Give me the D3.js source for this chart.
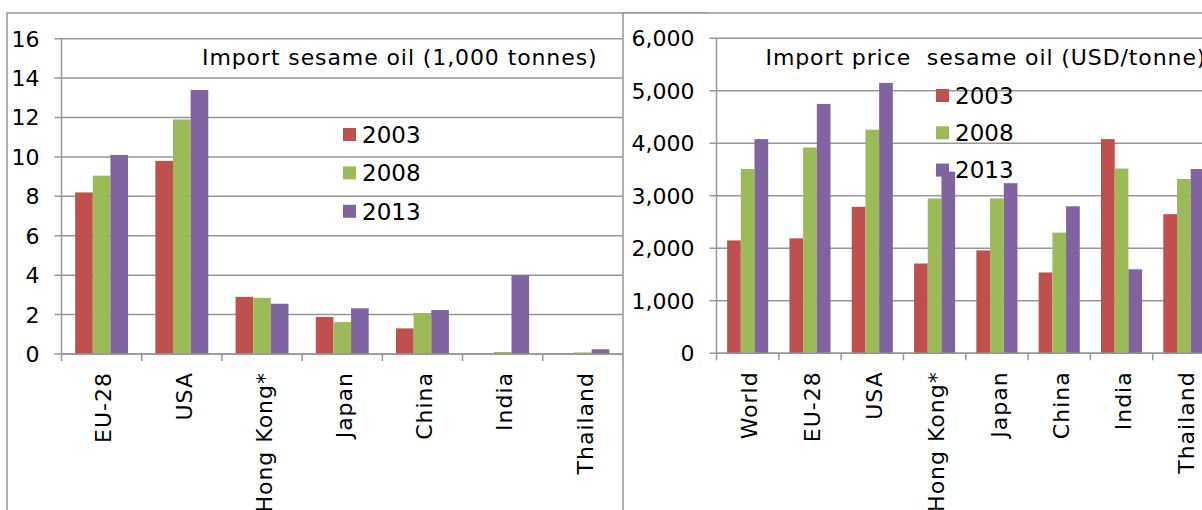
<!DOCTYPE html>
<html>
<head>
<meta charset="utf-8">
<script src="https://cdn.jsdelivr.net/npm/d3@7"></script>
<style>
  html, body { margin: 0; padding: 0; background: #fff; overflow: hidden; }
  svg { display: block; font-family: "DejaVu Sans", Verdana, sans-serif; }
  text { white-space: pre; fill: #000; }
</style>
</head>
<body>
<svg id="chart" width="1202" height="510"></svg>
<script>
// Sesame oil imports: volume (1,000 tonnes) and import price (USD/tonne)
const years = ["2003", "2008", "2013"];
const seriesColors = ["#C0504D", "#9BBB59", "#8064A2"];

const volCategories = ["EU-28", "USA", "Hong Kong*", "Japan", "China", "India", "Thailand"];
const vol2003 = [8.2, 9.8, 2.9, 1.88, 1.3, 0.02, 0.02];
const vol2008 = [9.05, 11.9, 2.85, 1.62, 2.08, 0.1, 0.08];
const vol2013 = [10.1, 13.4, 2.55, 2.32, 2.23, 4.0, 0.24];
const volTicks = [0, 2, 4, 6, 8, 10, 12, 14, 16];

const priceCategories = ["World", "EU-28", "USA", "Hong Kong*", "Japan", "China", "India", "Thailand"];
const price2003 = [2150, 2190, 2790, 1710, 1960, 1540, 4080, 2650];
const price2008 = [3510, 3920, 4260, 2950, 2950, 2300, 3520, 3320];
const price2013 = [4080, 4750, 5150, 3460, 3240, 2800, 1600, 3510];
const priceTicks = [0, 1000, 2000, 3000, 4000, 5000, 6000];

const svg = d3.select("#chart");
const GRID = "#979797";
const FONT = 22;

function drawPanel(cfg) {
  const g = svg.append("g");

  // panel frame
  g.append("rect")
    .attr("x", cfg.frame[0]).attr("y", cfg.frame[1])
    .attr("width", cfg.frame[2]).attr("height", cfg.frame[3])
    .attr("fill", "#fff").attr("stroke", GRID).attr("stroke-width", 1.5);

  const x = d3.scaleBand().domain(cfg.categories).range([cfg.left, cfg.right]).padding(0);
  const y = d3.scaleLinear().domain([0, cfg.max]).range([cfg.bottom, cfg.top]);

  // inner scale for the three years: bars touch, gap between groups ~1.55 bar widths
  const groupW = x.bandwidth() * 3 / (3 + 1.55);
  const inner = d3.scaleBand().domain(years).range([0, groupW]).padding(0);

  // horizontal gridlines with tick stubs to the left of the axis
  g.append("g").selectAll("line").data(cfg.ticks).join("line")
    .attr("x1", cfg.left - 7).attr("x2", cfg.right)
    .attr("y1", d => y(d)).attr("y2", d => y(d))
    .attr("stroke", GRID).attr("stroke-width", 1.5);

  // y tick labels
  g.append("g").selectAll("text").data(cfg.ticks).join("text")
    .attr("x", cfg.left - 22).attr("y", d => y(d))
    .attr("dy", "0.36em").attr("text-anchor", "end")
    .attr("font-size", FONT)
    .text(d => cfg.fmt(d));

  // bars
  cfg.series.forEach((vals, si) => {
    g.append("g").selectAll("rect").data(vals).join("rect")
      .attr("x", (d, i) => x(cfg.categories[i]) + (x.bandwidth() - groupW) / 2 + inner(years[si]))
      .attr("width", inner.bandwidth())
      .attr("y", d => y(d))
      .attr("height", d => y(0) - y(d))
      .attr("fill", seriesColors[si]);
  });

  // y axis line
  g.append("line")
    .attr("x1", cfg.left).attr("x2", cfg.left)
    .attr("y1", cfg.top).attr("y2", cfg.bottom)
    .attr("stroke", GRID).attr("stroke-width", 1.5);

  // x axis line and category boundary ticks
  g.append("line")
    .attr("x1", cfg.left).attr("x2", cfg.right)
    .attr("y1", cfg.bottom).attr("y2", cfg.bottom)
    .attr("stroke", GRID).attr("stroke-width", 1.5);
  const bounds = cfg.categories.map(c => x(c)).concat([cfg.right]);
  g.append("g").selectAll("line").data(bounds).join("line")
    .attr("x1", d => d).attr("x2", d => d)
    .attr("y1", cfg.bottom).attr("y2", cfg.bottom + 7)
    .attr("stroke", GRID).attr("stroke-width", 1.5);

  // rotated category labels
  g.append("g").selectAll("text").data(cfg.categories).join("text")
    .attr("transform", d => `translate(${x(d) + x.bandwidth() / 2 + 1},${cfg.bottom + 18}) rotate(-90)`)
    .attr("text-anchor", "end").attr("dy", "0.4em")
    .attr("font-size", FONT).attr("letter-spacing", 1)
    .text(d => d);

  // title
  g.append("text")
    .attr("x", cfg.titlePos[0]).attr("y", cfg.titlePos[1])
    .attr("font-size", FONT).attr("letter-spacing", 0.9)
    .text(cfg.title);

  // legend
  const lg = g.append("g");
  years.forEach((yr, i) => {
    const cy = cfg.legend[1] + i * cfg.legend[2];
    lg.append("rect")
      .attr("x", cfg.legend[0]).attr("y", cy - 6.5)
      .attr("width", 13).attr("height", 13)
      .attr("fill", seriesColors[i]);
    lg.append("text")
      .attr("x", cfg.legend[0] + 19).attr("y", cy)
      .attr("dy", "0.36em").attr("font-size", FONT + 1)
      .text(yr);
  });
}

drawPanel({
  frame: [7, 13, 700, 600],
  categories: volCategories,
  series: [vol2003, vol2008, vol2013],
  ticks: volTicks, max: 16,
  fmt: d3.format("d"),
  left: 61.5, right: 623, top: 38.7, bottom: 354,
  title: "Import sesame oil (1,000 tonnes)",
  titlePos: [202, 65],
  legend: [343, 134.5, 38.4]
});

drawPanel({
  frame: [623, 13, 700, 600],
  categories: priceCategories,
  series: [price2003, price2008, price2013],
  ticks: priceTicks, max: 6000,
  fmt: d3.format(","),
  left: 716.5, right: 1215, top: 38.3, bottom: 353.3,
  title: "Import price  sesame oil (USD/tonne)",
  titlePos: [765.5, 65],
  legend: [936, 95.5, 37.3]
});
</script>
</body>
</html>
